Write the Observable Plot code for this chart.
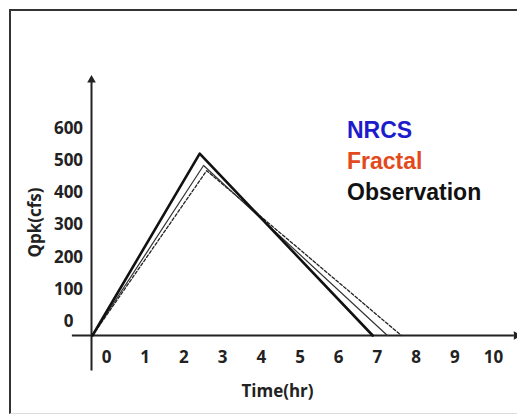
<!DOCTYPE html>
<html>
<head>
<meta charset="utf-8">
<script src="https://cdn.jsdelivr.net/npm/d3@7"></script>
<script src="https://cdn.jsdelivr.net/npm/@observablehq/plot@0.6"></script>
<style>
  html, body { margin: 0; padding: 0; background: #fff; }
  #wrap { position: relative; width: 517px; height: 416px; overflow: hidden; }
  #border { position: absolute; left: 9px; top: 9px; width: 520px; height: 402px;
            border-left: 2px solid #333; border-top: 2px solid #333; border-bottom: 1px solid #ddd; }
  #legend { position: absolute; left: 347px; top: 115px; font-family: "Liberation Sans", Arial, sans-serif;
            font-weight: bold; font-size: 23px; line-height: 31px; }
</style>
</head>
<body>
<div id="wrap">
  <div id="border"></div>
  <div id="chart"></div>
  <div id="legend"></div>
</div>
<script>
// Hydrographs (time in hr, discharge in cfs)
const series = ["Observation", "NRCS", "Fractal"];
const times = {
  Observation: [0, 2.77, 7.24],
  NRCS: [0, 2.87, 7.62],
  Fractal: [0, 2.95, 7.98]
};
const flows = {
  Observation: [0, 565, 0],
  NRCS: [0, 528, 0],
  Fractal: [0, 512, 0]
};
const xTicks = [0, 1, 2, 3, 4, 5, 6, 7, 8, 9, 10];
const yTicks = [0, 100, 200, 300, 400, 500, 600];
const legendNames = ["NRCS", "Fractal", "Observation"];
const legendColors = ["#1c1ccc", "#e24a1c", "#111111"];
const xAxisExtent = [-0.52, 10.9];
const yAxisExtent = [-110, 800];

const rows = series.flatMap(s => times[s].map((t, i) => ({series: s, t, q: flows[s][i]})));
const font = "'Open Sans', 'Noto Sans', sans-serif";

const chart = Plot.plot({
  width: 517,
  height: 416,
  marginLeft: 92,
  marginBottom: 81,
  marginTop: 0,
  marginRight: 0,
  style: {fontFamily: font, background: "transparent", overflow: "visible"},
  x: {domain: [0, 10], range: [92, 479]},
  y: {domain: [0, 600], range: [335, 141.8]},
  marks: [
    // axis lines
    Plot.ruleY([0], {x1: xAxisExtent[0], x2: xAxisExtent[1], stroke: "#222", strokeWidth: 2}),
    Plot.ruleX([0], {y1: yAxisExtent[0], y2: yAxisExtent[1], dx: -1, stroke: "#222", strokeWidth: 2}),
    Plot.dot([{x: xAxisExtent[1], y: 0}], {x: "x", y: "y", symbol: "triangle", rotate: 90, r: 3.2, fill: "#222", stroke: "none", dx: 2}),
    Plot.dot([{x: 0, y: yAxisExtent[1]}], {x: "x", y: "y", symbol: "triangle", r: 3.2, fill: "#222", stroke: "none", dx: -1, dy: 2}),
    // hydrographs
    Plot.line(rows.filter(d => d.series === "Fractal"), {x: "t", y: "q", stroke: "#222", strokeWidth: 1.3, strokeDasharray: "3,2"}),
    Plot.line(rows.filter(d => d.series === "NRCS"), {x: "t", y: "q", stroke: "#333", strokeWidth: 1.2}),
    Plot.line(rows.filter(d => d.series === "Observation"), {x: "t", y: "q", stroke: "#111", strokeWidth: 2.6}),
    // axes
    Plot.axisX(xTicks, {anchor: "bottom", tickSize: 0, tickPadding: 15, dx: 14, fontSize: 17, fontWeight: 700, label: null, fill: "#222"}),
    Plot.axisY(yTicks, {anchor: "left", tickSize: 0, tickPadding: 24, textAnchor: "middle", dy: -14, fontSize: 17, fontWeight: 700, label: null, fill: "#222"}),
    Plot.text(["Time(hr)"], {frameAnchor: "top-left", dx: 185, dy: 384, fontSize: 17, fontWeight: 700, fill: "#222", textAnchor: "middle"}),
    Plot.text(["Qpk(cfs)"], {frameAnchor: "top-left", dx: -64, dy: 222, rotate: -90, fontSize: 17, fontWeight: 700, fill: "#222", textAnchor: "middle"})
  ]
});
chart.style.position = "absolute";
chart.style.left = "0px";
chart.style.top = "0px";
document.getElementById("chart").appendChild(chart);

const legend = document.getElementById("legend");
legendNames.forEach((n, i) => {
  const d = document.createElement("div");
  d.textContent = n;
  d.style.color = legendColors[i];
  legend.appendChild(d);
});
</script>
</body>
</html>
